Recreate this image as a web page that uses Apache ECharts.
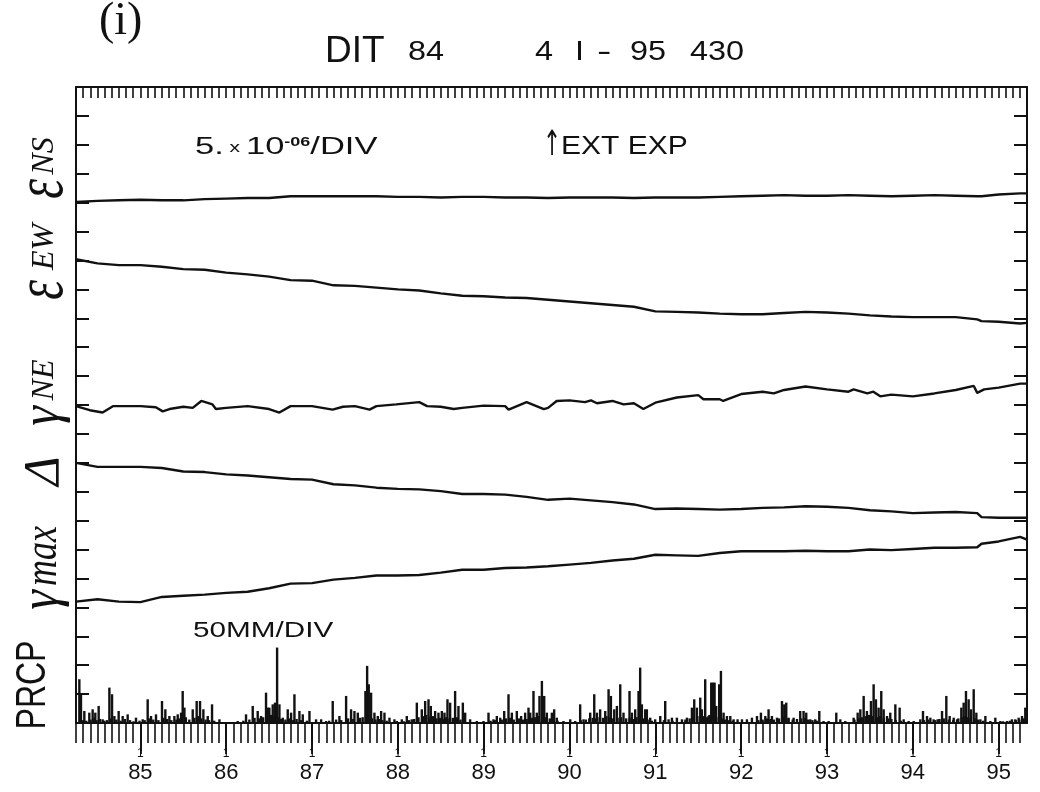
<!DOCTYPE html>
<html>
<head>
<meta charset="utf-8">
<script src="https://cdn.jsdelivr.net/npm/echarts@6/dist/echarts.min.js"></script>
<style>
  html, body { margin: 0; padding: 0; background: #fff; }
  #chart { width: 1040px; height: 792px; }
</style>
</head>
<body>
<div id="chart"></div>
<script>
// Sample times (decimal year, 19xx) for the smooth strain traces
const sampleYears = [84.25, 84.5, 84.75, 85.0, 85.25, 85.5, 85.75, 86.0, 86.25, 86.5, 86.75,
  87.0, 87.25, 87.5, 87.75, 88.0, 88.25, 88.5, 88.75, 89.0, 89.25, 89.5, 89.75,
  90.0, 90.25, 90.5, 90.75, 91.0, 91.25, 91.5, 91.75, 92.0, 92.25, 92.5, 92.75,
  93.0, 93.25, 93.5, 93.75, 94.0, 94.25, 94.5, 94.75, 94.8, 95.0, 95.25, 95.33];

// Strain traces, plotted level in units of 1e-6 (5e-6 per division)
const epsNS = [90.1, 90.3, 90.4, 90.5, 90.4, 90.4, 90.6, 90.7, 90.8, 90.8, 91.1,
  91.1, 91.1, 91.1, 91.1, 91.0, 91.0, 90.9, 91.0, 91.0, 90.9, 90.9, 90.8,
  90.9, 90.9, 90.9, 90.8, 90.9, 90.9, 90.9, 91.0, 91.1, 91.2, 91.3, 91.2,
  91.2, 91.3, 91.2, 91.1, 91.2, 91.3, 91.2, 91.1, 91.1, 91.4, 91.6, 91.6];

const epsEW = [80.2, 79.5, 79.2, 79.2, 78.9, 78.5, 78.4, 77.9, 77.6, 77.2, 76.6,
  76.5, 75.7, 75.6, 75.3, 75.0, 74.8, 74.3, 73.9, 73.8, 73.6, 73.5, 73.2,
  72.9, 72.6, 72.3, 72.0, 71.2, 71.1, 71.0, 70.8, 70.7, 70.7, 70.9, 71.1,
  71.0, 70.8, 70.5, 70.3, 70.2, 70.2, 70.2, 69.8, 69.5, 69.4, 69.1, 69.2];

const delta = [45.0, 44.3, 44.3, 44.3, 44.1, 43.5, 43.4, 43.0, 42.8, 42.5, 42.2,
  42.1, 41.3, 41.1, 40.7, 40.5, 40.4, 40.1, 39.6, 39.6, 39.5, 39.1, 38.6,
  38.8, 38.5, 38.2, 37.8, 37.0, 37.1, 37.0, 36.9, 37.0, 37.2, 37.3, 37.5,
  37.4, 37.2, 36.8, 36.6, 36.3, 36.4, 36.5, 36.3, 35.6, 35.5, 35.5, 35.5];

const gammaMax = [21.0, 21.4, 21.0, 20.9, 21.8, 22.0, 22.2, 22.5, 22.7, 23.3, 24.1,
  24.2, 24.8, 25.1, 25.5, 25.5, 25.6, 26.0, 26.5, 26.5, 26.8, 26.9, 27.1,
  27.4, 27.7, 28.1, 28.4, 29.1, 29.0, 28.9, 29.4, 29.7, 29.7, 29.7, 29.8,
  29.7, 29.7, 30.0, 29.9, 30.1, 30.3, 30.3, 30.4, 31.0, 31.4, 32.2, 31.7];

// Engineering shear trace has more short-period wiggles, so it keeps its own times
const gammaNEYears = [84.25, 84.41, 84.56, 84.68, 85.0, 85.18, 85.26, 85.34, 85.5, 85.61,
  85.71, 85.84, 85.88, 86.0, 86.25, 86.5, 86.62, 86.75, 87.0, 87.24, 87.36, 87.5,
  87.67, 87.75, 87.98, 88.25, 88.34, 88.5, 88.65, 88.75, 89.0, 89.25, 89.29, 89.5,
  89.7, 89.75, 89.85, 90.0, 90.18, 90.25, 90.32, 90.5, 90.63, 90.75, 90.86, 91.0,
  91.25, 91.5, 91.56, 91.75, 91.79, 92.0, 92.25, 92.38, 92.5, 92.75, 93.0, 93.25,
  93.31, 93.47, 93.54, 93.62, 93.75, 94.0, 94.25, 94.5, 94.71, 94.75, 94.83, 95.0,
  95.25, 95.33];
const gammaNE = [54.8, 54.1, 53.7, 54.8, 54.8, 54.6, 53.9, 54.3, 54.7, 54.5,
  55.7, 55.1, 54.3, 54.5, 54.8, 54.3, 53.7, 54.8, 54.8, 54.2, 54.7, 54.8,
  54.2, 54.8, 55.1, 55.5, 54.8, 54.7, 54.3, 54.5, 54.9, 54.8, 54.2, 55.5,
  54.3, 54.5, 55.7, 55.8, 55.5, 55.8, 55.3, 55.7, 55.1, 55.3, 54.3, 55.4,
  56.3, 56.7, 56.0, 56.0, 55.7, 56.9, 57.3, 57.0, 57.6, 58.2, 57.7, 57.3,
  57.7, 57.0, 57.3, 56.5, 56.8, 56.5, 57.0, 57.6, 58.3, 57.1, 57.7, 58.0,
  58.7, 58.7];

// Daily precipitation, larger events (decimal year, mm)
const rainYears = [84.289, 84.308, 84.347, 84.405, 84.444, 84.475, 84.514, 84.561, 84.639, 84.670,
  84.697, 84.747, 84.794, 84.852, 84.949, 85.027, 85.085, 85.124, 85.182, 85.252,
  85.291, 85.338, 85.396, 85.435, 85.474, 85.493, 85.513, 85.610, 85.656, 85.695,
  85.734, 85.785, 85.835, 85.921, 86.134, 86.231, 86.309, 86.367, 86.406, 86.464,
  86.484, 86.503, 86.542, 86.569, 86.593, 86.620, 86.659, 86.717, 86.756, 86.795,
  86.853, 86.892, 86.970, 87.047, 87.106, 87.164, 87.241, 87.319, 87.397, 87.455,
  87.494, 87.533, 87.622, 87.642, 87.661, 87.688, 87.727, 87.766, 87.805, 87.844,
  87.902, 87.960, 87.988, 88.046, 88.104, 88.162, 88.221, 88.279, 88.318, 88.357,
  88.384, 88.434, 88.473, 88.512, 88.543, 88.578, 88.609, 88.667, 88.706, 88.757,
  88.784, 88.842, 88.920, 88.998, 89.056, 89.114, 89.153, 89.192, 89.239, 89.289,
  89.328, 89.386, 89.436, 89.483, 89.522, 89.542, 89.580, 89.619, 89.650, 89.678,
  89.705, 89.736, 89.794, 89.821, 89.852, 89.930, 90.008, 90.066, 90.124, 90.163,
  90.241, 90.288, 90.319, 90.357, 90.416, 90.455, 90.482, 90.521, 90.552, 90.591,
  90.629, 90.699, 90.727, 90.765, 90.804, 90.823, 90.843, 90.882, 90.901, 90.940,
  90.998, 91.057, 91.115, 91.154, 91.193, 91.251, 91.310, 91.368, 91.426, 91.453,
  91.484, 91.523, 91.542, 91.581, 91.620, 91.651, 91.671, 91.690, 91.709, 91.744,
  91.764, 91.795, 91.834, 91.873, 91.912, 91.958, 92.009, 92.067, 92.125, 92.184,
  92.230, 92.281, 92.319, 92.358, 92.417, 92.475, 92.502, 92.525, 92.552, 92.611,
  92.688, 92.727, 92.758, 92.805, 92.863, 92.910, 92.960, 93.019, 93.108, 93.155,
  93.213, 93.310, 93.357, 93.388, 93.427, 93.465, 93.512, 93.543, 93.570, 93.601,
  93.632, 93.660, 93.699, 93.737, 93.796, 93.846, 93.893, 93.951, 94.010, 94.087,
  94.118, 94.165, 94.204, 94.242, 94.289, 94.340, 94.390, 94.429, 94.476, 94.515,
  94.565, 94.592, 94.619, 94.650, 94.678, 94.709, 94.740, 94.787, 94.845, 94.903,
  94.961, 95.019, 95.097, 95.155, 95.194, 95.233, 95.272, 95.310];
const rainMM = [75.7, 49.7, 20.8, 17.9, 23.7, 17.9, 29.5, 6.4, 61.2, 49.7,
  12.1, 20.8, 12.1, 15.0, 9.2, 6.4, 41.0, 12.1, 15.0, 38.1,
  23.7, 12.1, 12.1, 15.0, 17.9, 55.4, 26.6, 23.7, 38.1, 38.1,
  23.7, 12.1, 32.3, 6.4, 3.5, 15.0, 29.5, 20.8, 12.1, 52.5,
  26.6, 26.6, 32.3, 35.2, 130.5, 32.3, 9.2, 23.7, 17.9, 49.7,
  20.8, 15.0, 20.8, 6.4, 6.4, 3.5, 38.1, 12.1, 46.8, 23.7,
  20.8, 17.9, 55.4, 98.8, 67.0, 52.5, 17.9, 12.1, 20.8, 17.9,
  9.2, 6.4, 3.5, 6.4, 12.1, 6.4, 35.2, 23.7, 38.1, 41.0,
  29.5, 20.8, 17.9, 20.8, 17.9, 41.0, 35.2, 55.4, 29.5, 35.2,
  17.9, 6.4, 3.5, 3.5, 17.9, 6.4, 12.1, 9.2, 20.8, 49.7,
  17.9, 20.8, 12.1, 17.9, 26.6, 17.9, 55.4, 17.9, 46.8, 72.8,
  46.8, 17.9, 17.9, 23.7, 9.2, 3.5, 6.4, 3.5, 32.3, 6.4,
  17.9, 49.7, 17.9, 23.7, 20.8, 58.4, 46.8, 23.7, 29.5, 67.0,
  17.9, 55.4, 17.9, 23.7, 55.4, 95.8, 32.3, 23.7, 23.7, 9.2,
  6.4, 12.1, 38.1, 6.4, 9.2, 9.2, 6.4, 9.2, 26.6, 41.0,
  26.6, 43.9, 23.7, 75.7, 12.1, 69.9, 69.9, 69.9, 29.5, 67.0,
  90.1, 17.9, 12.1, 12.1, 6.4, 6.4, 6.4, 6.4, 9.2, 12.1,
  17.9, 12.1, 23.7, 12.1, 9.2, 38.1, 32.3, 35.2, 9.2, 9.2,
  20.8, 20.8, 17.9, 6.4, 6.4, 20.8, 3.5, 3.5, 17.9, 6.4,
  3.5, 9.2, 17.9, 23.7, 46.8, 20.8, 38.1, 67.0, 41.0, 26.6,
  55.4, 23.7, 12.1, 17.9, 32.3, 26.6, 6.4, 3.5, 3.5, 6.4,
  20.8, 12.1, 9.2, 6.4, 6.4, 20.8, 46.8, 12.1, 9.2, 6.4,
  26.6, 35.2, 55.4, 41.0, 23.7, 58.4, 17.9, 6.4, 12.1, 3.5,
  9.2, 3.5, 3.5, 6.4, 6.4, 9.2, 12.1, 26.6];

// Daily precipitation, light days along the base line (decimal year, mm)
const lightRainYears = [84.30, 84.33, 84.37, 84.42, 84.46, 84.49, 84.53, 84.58, 84.61, 84.65,
  84.72, 84.77, 84.82, 84.88, 84.92, 84.99, 85.05, 85.10, 85.15, 85.21,
  85.27, 85.31, 85.36, 85.42, 85.45, 85.53, 85.57, 85.63, 85.67, 85.71,
  85.76, 85.80, 85.86, 86.20, 86.27, 86.33, 86.39, 86.43, 86.47, 86.52,
  86.56, 86.61, 86.64, 86.69, 86.73, 86.78, 86.82, 86.87, 86.94, 87.20,
  87.28, 87.34, 87.42, 87.48, 87.56, 87.59, 87.63, 87.70, 87.74, 87.79,
  87.82, 87.87, 88.07, 88.13, 88.19, 88.24, 88.30, 88.33, 88.37, 88.41,
  88.45, 88.49, 88.53, 88.56, 88.60, 88.64, 88.69, 88.73, 88.77, 89.08,
  89.13, 89.21, 89.26, 89.31, 89.35, 89.41, 89.46, 89.50, 89.56, 89.60,
  89.64, 89.69, 89.72, 89.77, 89.81, 89.86, 90.13, 90.19, 90.23, 90.27,
  90.31, 90.35, 90.39, 90.43, 90.47, 90.50, 90.56, 90.60, 90.66, 90.70,
  90.74, 90.78, 90.81, 90.86, 90.91, 90.96, 91.10, 91.20, 91.35, 91.40,
  91.44, 91.49, 91.53, 91.56, 91.60, 91.63, 91.67, 91.71, 91.75, 91.78,
  91.81, 91.85, 91.90, 92.20, 92.25, 92.30, 92.34, 92.38, 92.44, 92.49,
  92.55, 92.60, 92.65, 92.70, 92.74, 92.78, 92.83, 92.88, 93.32, 93.37,
  93.41, 93.45, 93.49, 93.53, 93.58, 93.62, 93.66, 93.71, 93.75, 93.80,
  93.86, 94.13, 94.18, 94.26, 94.31, 94.36, 94.42, 94.47, 94.53, 94.57,
  94.60, 94.63, 94.67, 94.72, 94.76, 94.82, 95.05, 95.13, 95.20, 95.24,
  95.29, 95.32];
const lightRainMM = [8, 5, 4, 6, 9, 5, 7, 4, 5, 8,
  6, 4, 7, 5, 3, 4, 5, 8, 6, 5,
  9, 7, 5, 6, 8, 10, 6, 9, 12, 8,
  6, 5, 4, 4, 6, 9, 8, 10, 12, 14,
  12, 10, 7, 6, 8, 5, 7, 5, 4, 4,
  6, 5, 8, 7, 9, 10, 12, 8, 6, 7,
  5, 4, 3, 5, 7, 10, 12, 14, 10, 12,
  8, 9, 7, 10, 8, 9, 10, 6, 5, 4,
  5, 6, 8, 9, 6, 8, 6, 7, 9, 10,
  12, 14, 10, 8, 6, 4, 5, 6, 8, 9,
  8, 10, 9, 12, 10, 8, 9, 10, 8, 9,
  7, 10, 12, 8, 6, 4, 5, 4, 6, 8,
  10, 12, 14, 12, 10, 14, 12, 10, 12, 8,
  6, 5, 4, 5, 6, 8, 7, 6, 8, 10,
  8, 6, 7, 8, 9, 6, 5, 4, 6, 8,
  10, 12, 14, 12, 10, 12, 9, 8, 7, 5,
  4, 5, 6, 5, 7, 8, 6, 5, 8, 10,
  12, 10, 9, 8, 6, 4, 3, 4, 5, 6,
  8, 10];

// Axis marks
const yearTicks = [85, 86, 87, 88, 89, 90, 91, 92, 93, 94, 95];
const yearLabels = ['85', '86', '87', '88', '89', '90', '91', '92', '93', '94', '95'];
const X_MIN = 84.25, X_MAX = 95.33;
const monthTicks = [];
for (let m = 1011; m <= 1143; m++) monthTicks.push(m / 12);

const pair = (xs, ys) => xs.map((x, i) => [x, ys[i]]);
const INK = '#111';
const lineSeries = (name, xs, ys) => ({
  name, type: 'line', xAxisIndex: 0, yAxisIndex: 0,
  data: pair(xs, ys), symbol: 'none', silent: true,
  lineStyle: { color: INK, width: 2.4 }
});
const rainSeries = (name, xs, ys) => ({
  name, type: 'bar', xAxisIndex: 0, yAxisIndex: 2, barGap: '-100%',
  data: pair(xs, ys), barWidth: 2.4, silent: true,
  itemStyle: { color: INK }
});

const baseX = {
  type: 'value', min: X_MIN, max: X_MAX,
  splitLine: { show: false }, axisLabel: { show: false },
  axisLine: { show: false }, axisTick: { show: false }
};

// text pieces of the rotated component labels (reading bottom to top)
const SERIF = '"Liberation Serif"';
const vtext = (x, y, text, font, scaleY) => ({
  type: 'text', x, y, rotation: Math.PI / 2, scaleY: scaleY || 1,
  style: { text, font, fill: INK, align: 'center', verticalAlign: 'middle' }
});
const flat = (x, y, text, font, scaleX, scaleY) => ({
  type: 'text', x, y, scaleX: scaleX || 1, scaleY: scaleY || 1,
  style: { text, font, fill: INK, align: 'left', verticalAlign: 'middle' }
});

const chart = echarts.init(document.getElementById('chart'), null, { renderer: 'canvas' });
chart.setOption({
  animation: false,
  backgroundColor: '#fff',
  grid: { left: 76, right: 13, top: 87, bottom: 69 },
  xAxis: [
    Object.assign({}, baseX, {
      position: 'bottom',
      axisLine: { show: true, onZero: false, lineStyle: { color: INK, width: 2 } },
      axisTick: { show: true, customValues: monthTicks, length: 20, lineStyle: { color: INK, width: 1.6 } }
    }),
    Object.assign({}, baseX, {
      position: 'bottom',
      axisTick: { show: true, customValues: yearTicks, length: 28, lineStyle: { color: INK, width: 1.8 } },
      axisLabel: { show: true, customValues: yearTicks, formatter: () => '1', margin: 25,
        fontSize: 12, color: INK, fontFamily: 'Liberation Sans' }
    }),
    Object.assign({}, baseX, {
      position: 'bottom',
      axisLabel: { show: true, customValues: yearTicks,
        formatter: v => yearLabels[yearTicks.indexOf(Math.round(v))], margin: 39,
        fontSize: 22, color: INK, fontFamily: 'Liberation Sans' }
    }),
    Object.assign({}, baseX, {
      position: 'top',
      axisLine: { show: true, onZero: false, lineStyle: { color: INK, width: 2 } },
      axisTick: { show: true, inside: true, customValues: monthTicks, length: 11, lineStyle: { color: INK, width: 1.6 } }
    }),
    Object.assign({}, baseX, {
      position: 'top',
      axisTick: { show: true, inside: true, customValues: yearTicks, length: 31, lineStyle: { color: INK, width: 1.8 } }
    })
  ],
  yAxis: [
    {
      type: 'value', min: 0, max: 110, interval: 5, position: 'left',
      axisLine: { show: true, onZero: false, lineStyle: { color: INK, width: 2 } },
      axisTick: { show: true, inside: true, length: 13, lineStyle: { color: INK, width: 2 } },
      axisLabel: { show: false }, splitLine: { show: false }
    },
    {
      type: 'value', min: 0, max: 110, interval: 5, position: 'right',
      axisLine: { show: true, onZero: false, lineStyle: { color: INK, width: 2 } },
      axisTick: { show: true, inside: true, length: 13, lineStyle: { color: INK, width: 2 } },
      axisLabel: { show: false }, splitLine: { show: false }
    },
    // precipitation scale: 50 mm per division
    { type: 'value', min: 0, max: 1100, show: false, splitLine: { show: false } }
  ],
  series: [
    lineSeries('εNS', sampleYears, epsNS),
    lineSeries('εEW', sampleYears, epsEW),
    lineSeries('γNE', gammaNEYears, gammaNE),
    lineSeries('Δ', sampleYears, delta),
    lineSeries('γmax', sampleYears, gammaMax),
    rainSeries('PRCP', rainYears, rainMM),
    rainSeries('PRCP light', lightRainYears, lightRainMM)
  ],
  graphic: [
    flat(99, 22, '(i)', '46px ' + SERIF),
    flat(325, 52, 'DIT', '37px "Liberation Sans"'),
    flat(408, 53, '84', '27px "Liberation Sans"', 1.2),
    flat(535, 53, '4', '27px "Liberation Sans"', 1.2),
    flat(575, 53, 'I', '27px "Liberation Sans"', 1.2),
    flat(597, 53, '-', '27px "Liberation Sans"', 1.6),
    flat(630, 53, '95', '27px "Liberation Sans"', 1.2),
    flat(690, 53, '430', '27px "Liberation Sans"', 1.2),
    { type: 'text', x: 195, y: 148, scaleX: 1.5, style: {
        text: '{n|5.}{x| x }{n|10}{s|-06}{n|/DIV}', align: 'left', verticalAlign: 'middle',
        rich: {
          n: { font: '23px "Liberation Sans"', fill: INK },
          x: { font: '14px "Liberation Sans"', fill: INK },
          s: { font: 'bold 12px "Liberation Sans"', fill: INK, padding: [0, 0, 10, 0] }
        } } },
    flat(543, 146, '↑', '24px "DejaVu Sans"', 0.9, 1.45),
    flat(561, 147, 'EXT EXP', '25px "Liberation Sans"', 1.2),
    flat(193, 631, '50MM/DIV', '22px "Liberation Sans"', 1.35),
    // εNS
    vtext(44, 189, 'ε', 'italic 50px ' + SERIF, 1.4),
    vtext(45, 156, 'NS', 'italic 32px ' + SERIF),
    // εEW
    vtext(44, 290, 'ε', 'italic 50px ' + SERIF, 1.4),
    vtext(45, 247, 'EW', 'italic 32px ' + SERIF),
    // γNE
    vtext(44, 416, 'γ', 'italic 50px ' + SERIF, 1.1),
    vtext(45, 380, 'NE', 'italic 32px ' + SERIF),
    // Δ
    vtext(45, 471, 'Δ', 'italic 50px ' + SERIF),
    // γmax
    vtext(43, 600, 'γ', 'italic 50px ' + SERIF, 1.1),
    vtext(44, 556, 'max', 'italic 36px ' + SERIF, 1.3),
    // PRCP
    vtext(33, 685, 'PRCP', '32px "Liberation Sans"', 1.35)
  ]
});
</script>
</body>
</html>
